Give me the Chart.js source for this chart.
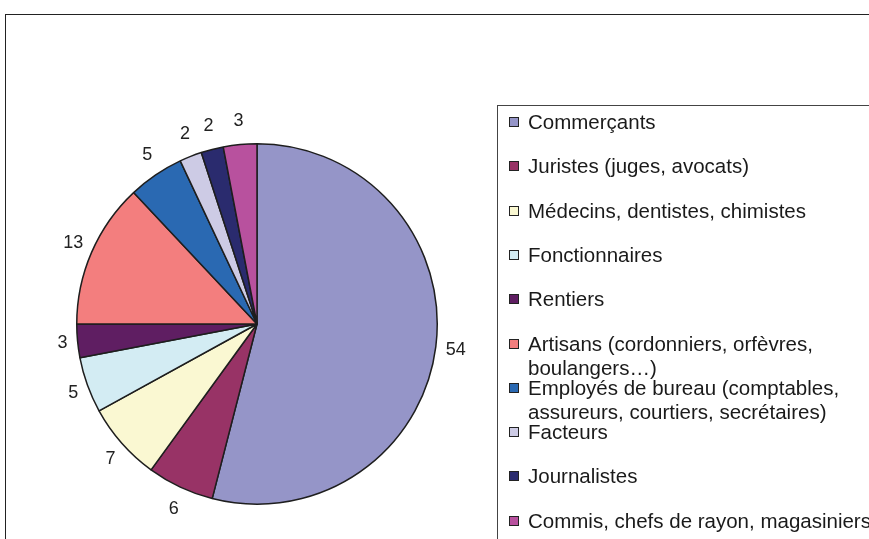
<!DOCTYPE html>
<html>
<head>
<meta charset="utf-8">
<script src="https://cdn.jsdelivr.net/npm/chart.js@4/dist/chart.umd.min.js"></script>
<style>
  html, body { margin: 0; padding: 0; background: #fff; overflow: hidden; }
  body { width: 869px; height: 539px; position: relative; font-family: "Liberation Sans", Arial, sans-serif; }
  #frame { position: absolute; left: 5px; top: 14px; width: 900px; height: 600px; border: 1.5px solid #222; box-sizing: border-box; }
  #wrap { position: absolute; left: 0; top: 0; width: 869px; height: 539px; }
  #legend { position: absolute; left: 497px; top: 105px; width: 500px; height: 500px; border: 1.5px solid #444; box-sizing: border-box; }
  .item { position: absolute; left: 528px; font-size: 20.5px; line-height: 24px; color: #1a1a1a; white-space: pre; }
  .item .sw { position: absolute; left: -19px; top: 7px; width: 8px; height: 8px; border: 1px solid #222; }
</style>
</head>
<body>
<div id="frame"></div>
<div id="wrap"><canvas id="chart-pie"></canvas></div>
<div id="legend"></div>
<div id="items"></div>
<script>
const categories = [
  "Commerçants",
  "Juristes (juges, avocats)",
  "Médecins, dentistes, chimistes",
  "Fonctionnaires",
  "Rentiers",
  "Artisans (cordonniers, orfèvres,\nboulangers…)",
  "Employés de bureau (comptables,\nassureurs, courtiers, secrétaires)",
  "Facteurs",
  "Journalistes",
  "Commis, chefs de rayon, magasiniers",
];
const values = [54, 6, 7, 5, 3, 13, 5, 2, 2, 3];
const colors = [
  "#9595c8", "#983366", "#faf8d2", "#d3ecf3", "#5f1e62",
  "#f37e7e", "#2a69b2", "#cdcbe5", "#2a2b6e", "#b8519e",
];

// value labels just outside each slice, box edge facing the pie
const outsideLabels = {
  id: "outsideLabels",
  afterDatasetsDraw(chart) {
    const ctx = chart.ctx;
    const meta = chart.getDatasetMeta(0);
    ctx.save();
    ctx.font = "18px 'Liberation Sans', Arial, sans-serif";
    ctx.fillStyle = "#222";
    ctx.textAlign = "center";
    ctx.textBaseline = "middle";
    meta.data.forEach((arc, i) => {
      const p = arc.getProps(["x", "y", "startAngle", "endAngle", "outerRadius"], true);
      const mid = (p.startAngle + p.endAngle) / 2;
      const text = String(values[i]);
      const w = ctx.measureText(text).width;
      const r = p.outerRadius + 10;
      const cx = p.x + Math.cos(mid) * (r + w / 2);
      const cy = p.y + Math.sin(mid) * (r + 14);
      ctx.fillText(text, cx, cy);
    });
    ctx.restore();
  },
};

new Chart(document.getElementById("chart-pie"), {
  type: "pie",
  plugins: [outsideLabels],
  options: {
    animation: false,
    responsive: true,
    maintainAspectRatio: false,
    layout: {
      padding: { left: 76, top: 143, right: 431, bottom: 34 },
    },
    plugins: {
      legend: { display: false },
      tooltip: { enabled: false },
    },
  },
  data: {
    labels: categories,
    datasets: [
      {
        data: values,
        backgroundColor: colors,
        borderColor: "#1e1e1e",
        borderWidth: 1.5,
      },
    ],
  },
});

const items = document.getElementById("items");
categories.forEach((name, i) => {
  const div = document.createElement("div");
  div.className = "item";
  div.style.top = (122 + i * 44.3 - 12) + "px";
  const sw = document.createElement("span");
  sw.className = "sw";
  sw.style.background = colors[i];
  div.appendChild(sw);
  div.appendChild(document.createTextNode(name));
  items.appendChild(div);
});
</script>
</body>
</html>
